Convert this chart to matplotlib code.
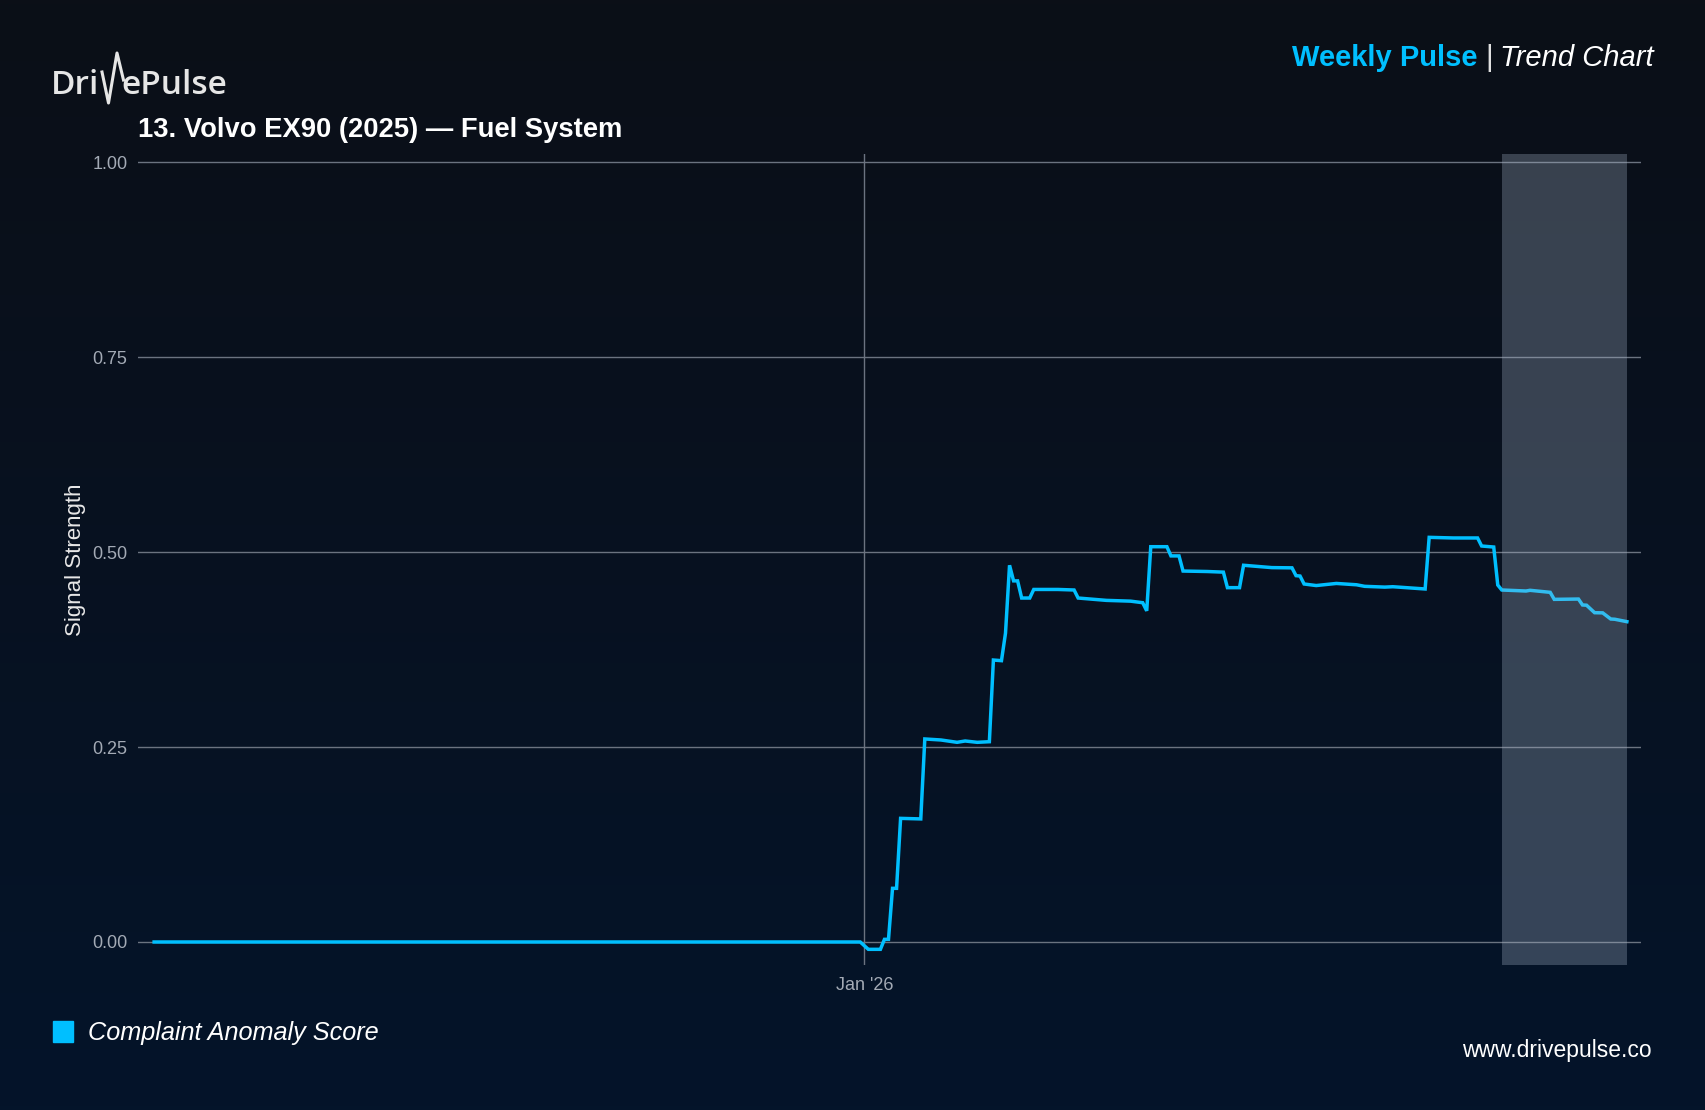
import numpy as np
import pandas as pd
import matplotlib
matplotlib.use("Agg")
import matplotlib.pyplot as plt
from matplotlib.lines import Line2D
from matplotlib.patches import Rectangle

plt.rcParams['font.family'] = ['Liberation Sans', 'DejaVu Sans']

# vertices of the score line
dates = ['2025-07-09', '2025-12-31', '2026-01-02', '2026-01-05', '2026-01-06',
         '2026-01-07', '2026-01-08', '2026-01-09', '2026-01-10', '2026-01-15',
         '2026-01-16', '2026-01-20', '2026-01-24', '2026-01-26', '2026-01-29',
         '2026-02-01', '2026-02-02', '2026-02-04', '2026-02-05', '2026-02-06',
         '2026-02-07', '2026-02-08', '2026-02-09', '2026-02-11', '2026-02-12',
         '2026-02-18', '2026-02-22', '2026-02-23', '2026-03-02', '2026-03-08',
         '2026-03-11', '2026-03-12', '2026-03-13', '2026-03-17', '2026-03-18',
         '2026-03-20', '2026-03-21', '2026-03-27', '2026-03-31', '2026-04-01',
         '2026-04-04', '2026-04-05', '2026-04-12', '2026-04-17', '2026-04-18',
         '2026-04-19', '2026-04-20', '2026-04-23', '2026-04-28', '2026-05-03',
         '2026-05-05', '2026-05-10', '2026-05-12', '2026-05-20', '2026-05-21',
         '2026-05-27', '2026-06-02', '2026-06-03', '2026-06-06', '2026-06-07',
         '2026-06-08', '2026-06-14', '2026-06-15', '2026-06-20', '2026-06-21',
         '2026-06-27', '2026-06-28', '2026-06-29', '2026-07-01', '2026-07-03',
         '2026-07-05', '2026-07-06', '2026-07-09']
scores = [0.0, 0.0, -0.0094, -0.0094, 0.0034,
          0.0034, 0.0688, 0.0688, 0.1585, 0.1578,
          0.2603, 0.2590, 0.2560, 0.2577, 0.2560,
          0.2568, 0.3615, 0.3607, 0.3960, 0.4830,
          0.4630, 0.4630, 0.4410, 0.4410, 0.4520,
          0.4520, 0.4513, 0.4410, 0.4380, 0.4370,
          0.4350, 0.4246, 0.5068, 0.5068, 0.4950,
          0.4950, 0.4756, 0.4750, 0.4742, 0.4543,
          0.4543, 0.4830, 0.4800, 0.4797, 0.4697,
          0.4692, 0.4590, 0.4570, 0.4597, 0.4580,
          0.4560, 0.4550, 0.4555, 0.4526, 0.5188,
          0.5180, 0.5180, 0.5077, 0.5064, 0.4577,
          0.4513, 0.4500, 0.4509, 0.4483, 0.4393,
          0.4397, 0.4321, 0.4318, 0.4222, 0.4220,
          0.4141, 0.4138, 0.4107]
highlight_start = '2026-06-08'
highlight_end = '2026-07-09'
x_ticks = ['2026-01-01']
x_tick_labels = ["Jan '26"]
y_ticks = [0.0, 0.25, 0.5, 0.75, 1.0]

W, H = 1705, 1110
fig = plt.figure(figsize=(W / 100, H / 100), dpi=100)

# background gradient
bg = fig.add_axes([0, 0, 1, 1], zorder=-10)
top = np.array([11, 15, 23]) / 255
bot = np.array([4, 20, 42]) / 255
t = np.linspace(0, 1, 256)[:, None]
grad = top[None, :] * (1 - t) + bot[None, :] * t
bg.imshow(grad[:, None, :], aspect='auto', extent=[0, 1, 0, 1])
bg.axis('off')

x = pd.to_datetime(dates)
base = pd.Timestamp('2026-01-01')
xlim = (base - pd.Timedelta(days=180), base + pd.Timedelta(days=192.5))

ax = fig.add_axes([138 / W, 1 - 965 / H, (1641 - 138) / W, (965 - 154) / H])
ax.set_facecolor('none')
ax.plot(x, scores, color='#00bfff', lw=2.5, zorder=3, solid_joinstyle='miter')
ax.axvspan(pd.Timestamp(highlight_start), pd.Timestamp(highlight_end),
           color='#a8b8cc', alpha=0.3, lw=0, zorder=4)
ax.set_xlim(xlim)
ax.set_ylim(-0.0295, 1.0103)
ax.set_yticks(y_ticks)
ax.set_yticklabels(['%.2f' % v for v in y_ticks])
ax.set_xticks(pd.to_datetime(x_ticks))
ax.set_xticklabels(x_tick_labels)
ax.grid(True, color='#6b7380', lw=1.0)
ax.set_axisbelow(True)
ax.tick_params(axis='both', length=0, labelsize=13, colors='#a3aab5')
ax.tick_params(axis='y', pad=7.5)
ax.tick_params(axis='x', pad=8.5)
for s in ax.spines.values():
    s.set_visible(False)
ax.set_ylabel('Signal Strength', fontsize=16, color='#e8e8e8')
ax.yaxis.set_label_coords((86 - 138) / 1503, 0.5)

# header
logo_font = ['Open Sans', 'DejaVu Sans']
fig.text(51 / W, 1 - 94 / H, 'Dri', fontsize=24, color='#e6e6e6',
         family=logo_font, fontweight='semibold', ha='left', va='baseline')
pulse_x = np.array([102, 108.5, 117, 123.5]) / W
pulse_y = 1 - np.array([72, 103, 53, 80]) / H
fig.add_artist(Line2D(pulse_x, pulse_y, color='#e6e6e6', lw=2.2,
                      transform=fig.transFigure))
fig.text(121 / W, 1 - 94 / H, 'ePulse', fontsize=24, color='#e6e6e6',
         family=logo_font, fontweight='semibold', ha='left', va='baseline')

fig.text(138 / W, 1 - 137 / H, '13. Volvo EX90 (2025) \u2014 Fuel System',
         fontsize=19.7, fontweight='bold', color='white', ha='left', va='baseline')

fig.text(1477 / W, 1 - 66 / H, 'Weekly Pulse', fontsize=21, fontweight='bold',
         color='#00bfff', ha='right', va='baseline')
fig.text(1489 / W, 1 - 66 / H, '|', fontsize=21, color='#e0e0e0',
         ha='center', va='baseline')
fig.text(1654 / W, 1 - 66 / H, 'Trend Chart', fontsize=21, style='italic',
         color='white', ha='right', va='baseline')

# legend and footer
fig.add_artist(Rectangle((53 / W, 1 - 1042 / H), 20 / W, 21 / H,
                         color='#00bfff', transform=fig.transFigure))
fig.text(88 / W, 1 - 1040 / H, 'Complaint Anomaly Score', fontsize=18.2,
         style='italic', color='white', ha='left', va='baseline')
fig.text(1652 / W, 1 - 1057 / H, 'www.drivepulse.co', fontsize=16.5,
         color='white', ha='right', va='baseline')

fig.savefig('out.png', dpi=100)
